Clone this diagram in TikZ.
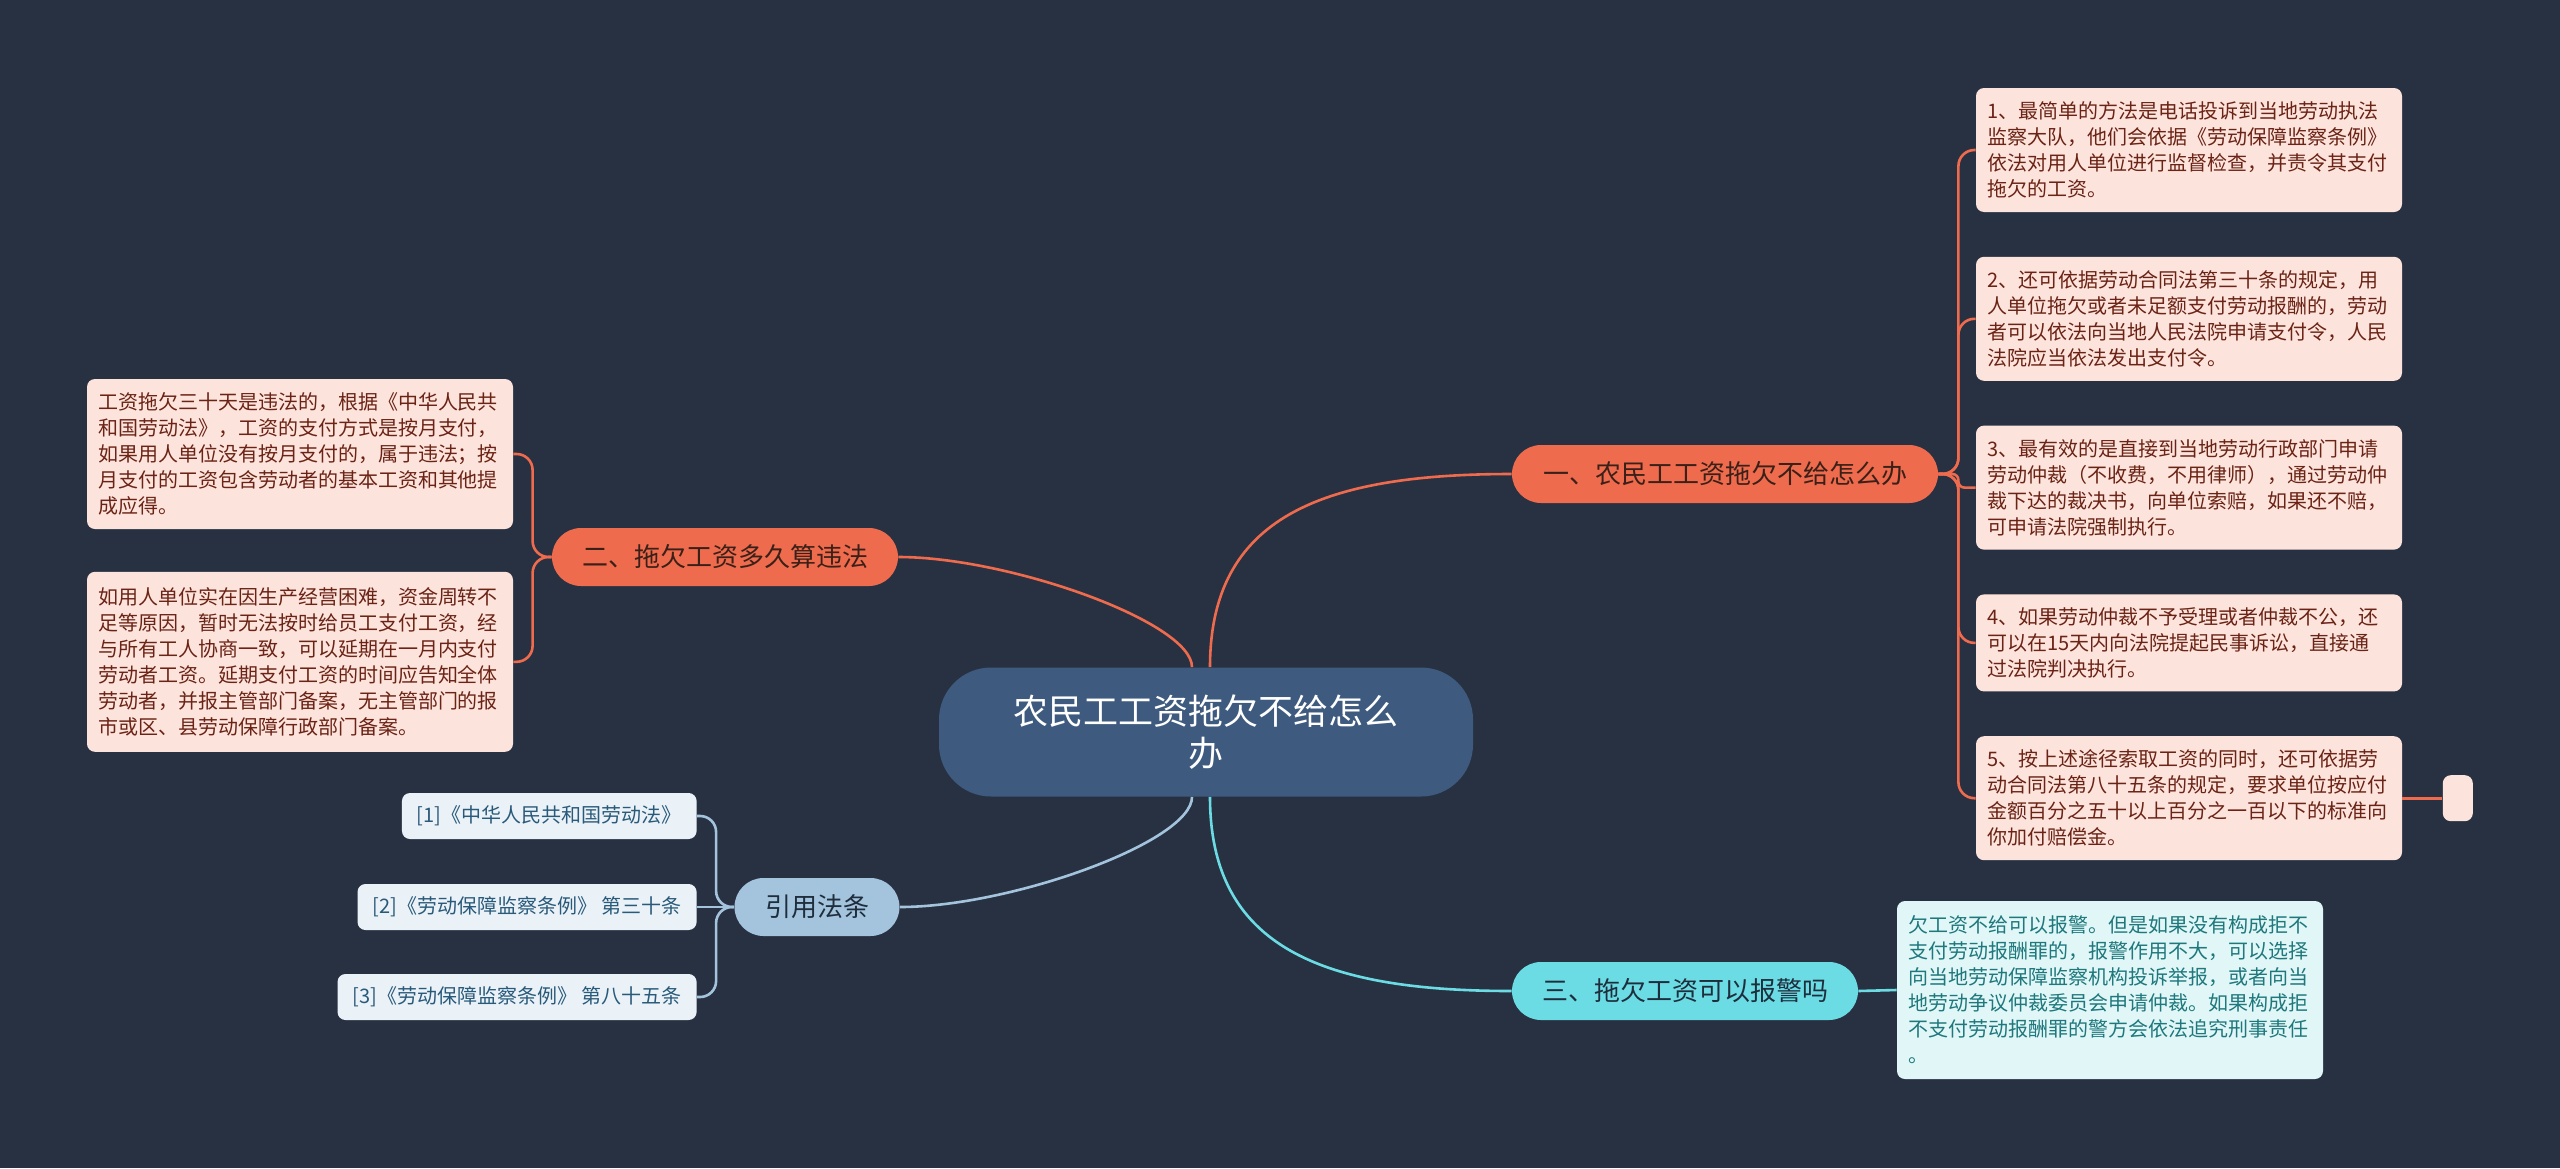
\documentclass[tikz,border=0pt]{standalone}
\usepackage{fontspec}
\usepackage{xcolor}
\usepackage{tikz}
\usetikzlibrary{positioning}
\newfontfamily\cjkfont{Noto Sans CJK SC}
\definecolor{bgnavy}{HTML}{283142}
\definecolor{rootblue}{HTML}{3E5A7E}
\definecolor{coral}{HTML}{EE6B4D}
\definecolor{coralleaf}{HTML}{FCE4DD}
\definecolor{coraltext}{HTML}{6B2315}
\definecolor{topicdark}{HTML}{3A2018}
\definecolor{aqua}{HTML}{6BDCE4}
\definecolor{aqualeaf}{HTML}{E0F6F7}
\definecolor{aquatext}{HTML}{1E787C}
\definecolor{steel}{HTML}{A3C4DC}
\definecolor{steelleaf}{HTML}{EAF2F8}
\definecolor{steeltext}{HTML}{2A5A7A}
\definecolor{steeldark}{HTML}{1F2E3D}

\begin{document}
\begin{tikzpicture}[x=0.5pt, y=-0.5pt,
  every node/.style={font=\cjkfont},
  rootnode/.style={fill=rootblue, text=white, rounded corners=26pt, minimum width=267pt, minimum height=64.5pt, align=center, inner sep=0pt, font=\cjkfont\fontsize{17.5pt}{21pt}\selectfont},
  topic/.style={rounded corners=14.5pt, minimum height=29pt, inner sep=0pt, font=\cjkfont\fontsize{13pt}{16pt}\selectfont},
  leaf/.style={rounded corners=4pt, text width=202pt, inner xsep=5.5pt, inner ysep=6pt, align=left, font=\cjkfont\fontsize{10pt}{13pt}\selectfont},
  citebox/.style={rounded corners=4pt, fill=steelleaf, text=steeltext, inner xsep=7.5pt, minimum height=23pt, anchor=east, font=\cjkfont\fontsize{10pt}{12pt}\selectfont},
  branchline/.style={line width=1.3pt}]
  \fill[bgnavy] (0,0) rectangle (2560,1168);

  % centre and main topics
  \node[rootnode] (root) at (1206,732) {农民工工资拖欠不给怎么\\办};
  \node[topic, fill=coral, text=topicdark, minimum width=213pt] (b1) at (1725,474) {一、农民工工资拖欠不给怎么办};
  \node[topic, fill=coral, text=topicdark, minimum width=173pt] (b2) at (725,557) {二、拖欠工资多久算违法};
  \node[topic, fill=aqua, text=steeldark, minimum width=173pt] (b3) at (1685,991) {三、拖欠工资可以报警吗};
  \node[topic, fill=steel, text=steeldark, minimum width=82.5pt] (b4) at (817,907) {引用法条};

  % right leaves
  \node[leaf, fill=coralleaf, text=coraltext, minimum height=62pt] (l1) at (2189,150) {1、最简单的方法是电话投诉到当地劳动执法\\监察大队，他们会依据《劳动保障监察条例》\\依法对用人单位进行监督检查，并责令其支付\\拖欠的工资。};
  \node[leaf, fill=coralleaf, text=coraltext, minimum height=62pt, below=22pt of l1] (l2) {2、还可依据劳动合同法第三十条的规定，用\\人单位拖欠或者未足额支付劳动报酬的，劳动\\者可以依法向当地人民法院申请支付令，人民\\法院应当依法发出支付令。};
  \node[leaf, fill=coralleaf, text=coraltext, minimum height=62pt, below=22pt of l2] (l3) {3、最有效的是直接到当地劳动行政部门申请\\劳动仲裁（不收费，不用律师），通过劳动仲\\裁下达的裁决书，向单位索赔，如果还不赔，\\可申请法院强制执行。};
  \node[leaf, fill=coralleaf, text=coraltext, minimum height=48.5pt, below=22pt of l3] (l4) {4、如果劳动仲裁不予受理或者仲裁不公，还\\可以在15天内向法院提起民事诉讼，直接通\\过法院判决执行。};
  \node[leaf, fill=coralleaf, text=coraltext, minimum height=62pt, below=22pt of l4] (l5) {5、按上述途径索取工资的同时，还可依据劳\\动合同法第八十五条的规定，要求单位按应付\\金额百分之五十以上百分之一百以下的标准向\\你加付赔偿金。};
  \node[fill=coralleaf, rounded corners=4pt, minimum width=15pt, minimum height=23pt, inner sep=0pt, right=20pt of l5] (stub) {};

  % left leaves
  \node[leaf, fill=coralleaf, text=coraltext, minimum height=75pt] (ll1) at (300,454) {工资拖欠三十天是违法的，根据《中华人民共\\和国劳动法》，工资的支付方式是按月支付，\\如果用人单位没有按月支付的，属于违法；按\\月支付的工资包含劳动者的基本工资和其他提\\成应得。};
  \node[leaf, fill=coralleaf, text=coraltext, minimum height=90pt, below=21pt of ll1] (ll2) {如用人单位实在因生产经营困难，资金周转不\\足等原因，暂时无法按时给员工支付工资，经\\与所有工人协商一致，可以延期在一月内支付\\劳动者工资。延期支付工资的时间应告知全体\\劳动者，并报主管部门备案，无主管部门的报\\市或区、县劳动保障行政部门备案。};

  % police leaf
  \node[leaf, fill=aqualeaf, text=aquatext, minimum height=89pt] (q1) at (2110,990) {欠工资不给可以报警。但是如果没有构成拒不\\支付劳动报酬罪的，报警作用不大，可以选择\\向当地劳动保障监察机构投诉举报，或者向当\\地劳动争议仲裁委员会申请仲裁。如果构成拒\\不支付劳动报酬罪的警方会依法追究刑事责任\\。};

  % citations
  \node[citebox] (c1) at (697,816) {[1]《中华人民共和国劳动法》};
  \node[citebox] (c2) at (697,907) {[2]《劳动保障监察条例》 第三十条};
  \node[citebox] (c3) at (697,997) {[3]《劳动保障监察条例》 第八十五条};

  % connectors
  \draw[branchline, coral] ([xshift=2pt]root.north) .. controls +(0,-150) and +(-190,0) .. (b1.west);
  \draw[branchline, coral] ([xshift=-7pt]root.north) .. controls +(0,-45) and +(110,0) .. (b2.east);
  \draw[branchline, aqua] ([xshift=2pt]root.south) .. controls +(0,150) and +(-190,0) .. (b3.west);
  \draw[branchline, steel] ([xshift=-7pt]root.south) .. controls +(0,45) and +(110,0) .. (b4.east);

  \foreach \leafname in {l1,l2,l4,l5}
    \draw[branchline, coral, rounded corners=8pt] (b1.east) -- ++(20,0) |- (\leafname.west);
  \draw[branchline, coral, rounded corners=3pt] (b1.east) -- ++(20,0) |- (l3.west);
  \draw[branchline, coral] (l5.east) -- (stub.west);

  \foreach \leafname in {ll1,ll2}
    \draw[branchline, coral, rounded corners=8pt] (b2.west) -- ++(-19,0) |- (\leafname.east);

  \draw[branchline, aqua] (b3.east) -- (q1.west);

  \foreach \leafname in {c1,c3}
    \draw[branchline, steel, rounded corners=8pt] (b4.west) -- ++(-18,0) |- (\leafname.east);
  \draw[branchline, steel] (b4.west) -- (c2.east);
\end{tikzpicture}
\end{document}
